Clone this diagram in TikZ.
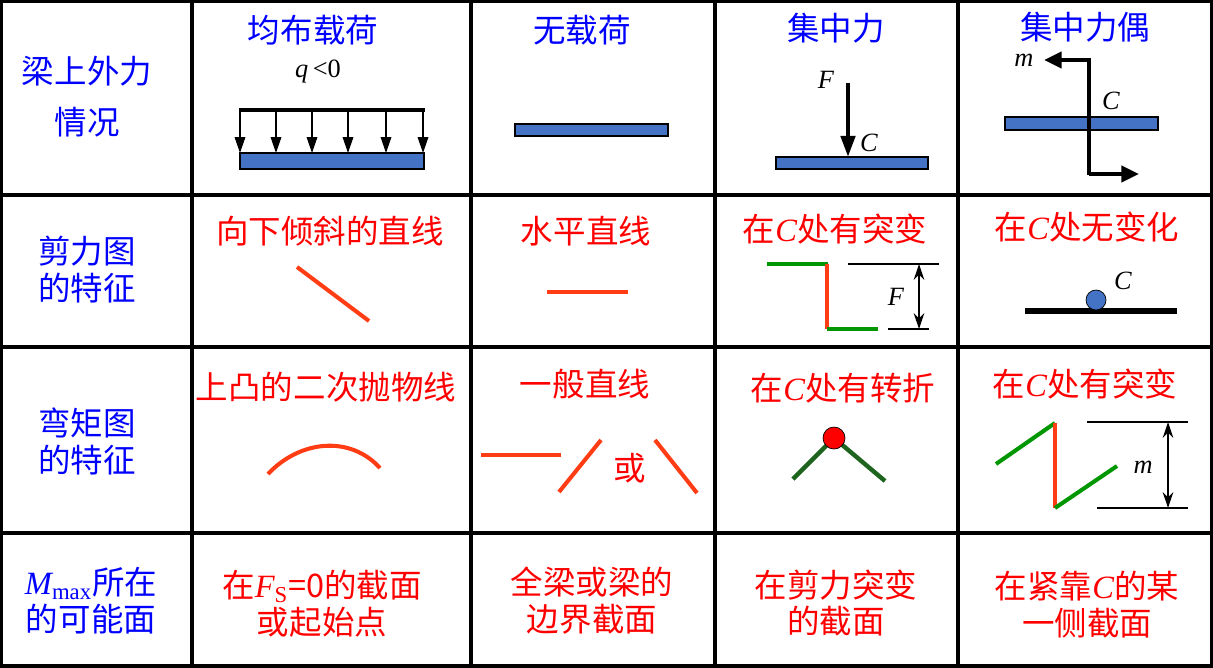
\documentclass[tikz,border=0pt]{standalone}
\usepackage{fontspec}
\newfontfamily\cjk{Noto Sans CJK SC}
\newfontfamily\tms{Liberation Serif}
\newcommand{\iv}[1]{{\tms\itshape #1}}
\usetikzlibrary{arrows.meta}
\definecolor{beamblue}{RGB}{68,114,196}
\definecolor{sgreen}{RGB}{0,150,0}
\definecolor{dgreen}{RGB}{30,100,30}
\definecolor{lred}{RGB}{255,60,20}
\begin{document}
\begin{tikzpicture}[x=0.02cm,y=-0.02cm]
        \tikzset{
            head/.style={text=blue, font=\cjk\fontsize{18.5}{21}\selectfont, align=center},
            note/.style={text=red, font=\cjk\fontsize{18.5}{21}\selectfont, align=center},
            sym/.style={font=\tms\itshape\fontsize{15}{17}\selectfont},
            beam/.style={draw=black, fill=beamblue, thick},
            grid/.style={line width=2.2pt},
            load/.style={-{Triangle[length=9pt,width=6pt]}, thick},
            dim/.style={{Stealth[length=9pt,width=6pt]}-{Stealth[length=9pt,width=6pt]}, thick},
            curve/.style={line width=2.3pt, lred},
        }
        \useasboundingbox (0,0) rectangle (1213,667);
        % table
        \draw[grid] (1,1) rectangle (1212,666);
        \foreach \x in {192,471,715,958} \draw[grid] (\x,0) -- (\x,667);
        \foreach \y in {195,347,533} \draw[grid] (0,\y) -- (1213,\y);
        % first column
        \node[head] (ext) at (87,97) {梁上外力\\[8pt]情况};
        \node[head] (shr) at (87,270) {剪力图\\的特征};
        \node[head] (bnd) at (87,441) {弯矩图\\的特征};
        \node[head] (mmax) at (91,601) {\iv{M}\textsubscript{\tms max}所在\\的可能面};
        % headers
        \node[head] (dist) at (313,30) {均布载荷};
        \node[head] (none) at (582,30) {无载荷};
        \node[head] (conc) at (836,28) {集中力};
        \node[head] (coup) at (1085,27) {集中力偶};
        % distributed load
        \node[sym] (q) at (318,72) {q\,\textup{<0}};
        \draw[line width=2pt] (239,110) -- (425,110);
        \foreach \x in {240,276,312,348,386,423} \draw[load] (\x,110) -- (\x,153);
        \draw[beam] (240,153) rectangle (424,169);
        % no load
        \draw[beam] (515,124) rectangle (668,136);
        % concentrated force
        \draw[beam] (776,157) rectangle (928,169);
        \coordinate (ftop) at (848,83);
        \coordinate (fbot) at (848,157);
        \draw[line width=2.5pt, -{Triangle[length=12pt,width=8pt]}] (ftop) -- (fbot);
        \node[sym] (F) at (826,80) {F};
        \node[sym] (c1) at (869,143) {C};
        % couple
        \draw[beam] (1005,117) rectangle (1158,130);
        \draw[line width=2.5pt, -{Triangle[length=10pt,width=9pt]}] (1089,175) -- (1089,60) -- (1044,60);
        \draw[line width=2.5pt, -{Triangle[length=10pt,width=9pt]}] (1089,174) -- (1139,174);
        \node[sym] (m1) at (1024,60) {m};
        \node[sym] (c2) at (1111,101) {C};
        % shear row
        \node[note] (s1) at (330,231) {向下倾斜的直线};
        \draw[curve] (297,267) -- (369,321);
        \node[note] (s2) at (586,231) {水平直线};
        \draw[curve] (547,292) -- (628,292);
        \node[note] (s3) at (835,229) {在\iv{C}处有突变};
        \draw[line width=2.3pt, sgreen] (767,264) -- (828,264);
        \draw[curve] (827,264) -- (827,329);
        \draw[line width=2.3pt, sgreen] (827,329) -- (878,329);
        \draw[thick] (848,264) -- (939,264);
        \draw[thick] (888,329) -- (929,329);
        \draw[dim] (919,264) -- (919,329);
        \node[sym] (F2) at (896,297) {F};
        \node[note] (s4) at (1087,227) {在\iv{C}处无变化};
        \draw[line width=3pt] (1025,311) -- (1177,311);
        \node[circle, draw=black, fill=beamblue, minimum size=20*0.02cm, inner sep=0pt] (ball) at (1096,300) {};
        \node[sym] (c3) at (1123,281) {C};
        % moment row
        \node[note] (b1) at (326,387) {上凸的二次抛物线};
        \draw[curve] (268,474) .. controls (300,440) and (350,435) .. (380,468);
        \node[note] (b2) at (585,384) {一般直线};
        \draw[curve] (481,455) -- (561,455);
        \draw[curve] (559,492) -- (601,440);
        \node[note] (or) at (630,468) {或};
        \draw[curve] (655,440) -- (697,493);
        \node[note] (b3) at (843,388) {在\iv{C}处有转折};
        \coordinate (kl) at (793,479);
        \coordinate (kr) at (885,481);
        \coordinate (kc) at (834,438);
        \draw[line width=2.5pt, dgreen] (kl) -- (kc) -- (kr);
        \node[circle, draw=black, fill=red, minimum size=22*0.02cm, inner sep=0pt] (kink) at (kc) {};
        \node[note] (b4) at (1085,384) {在\iv{C}处有突变};
        \draw[line width=2.3pt, sgreen] (996,464) -- (1055,423);
        \draw[curve] (1055,423) -- (1055,508);
        \draw[line width=2.3pt, sgreen] (1055,508) -- (1117,466);
        \draw[thick] (1087,422) -- (1188,422);
        \draw[thick] (1097,508) -- (1188,508);
        \draw[dim] (1168,422) -- (1168,508);
        \node[sym] (m2) at (1143,467) {m};
        % last row
        \node[note] (r1) at (322,604) {在\iv{F}\textsubscript{\tms S}=0的截面\\或起始点};
        \node[note] (r2) at (592,601) {全梁或梁的\\边界截面};
        \node[note] (r3) at (836,603) {在剪力突变\\的截面};
        \node[note] (r4) at (1087,605) {在紧靠\iv{C}的某\\一侧截面};
    \end{tikzpicture}
\end{document}
